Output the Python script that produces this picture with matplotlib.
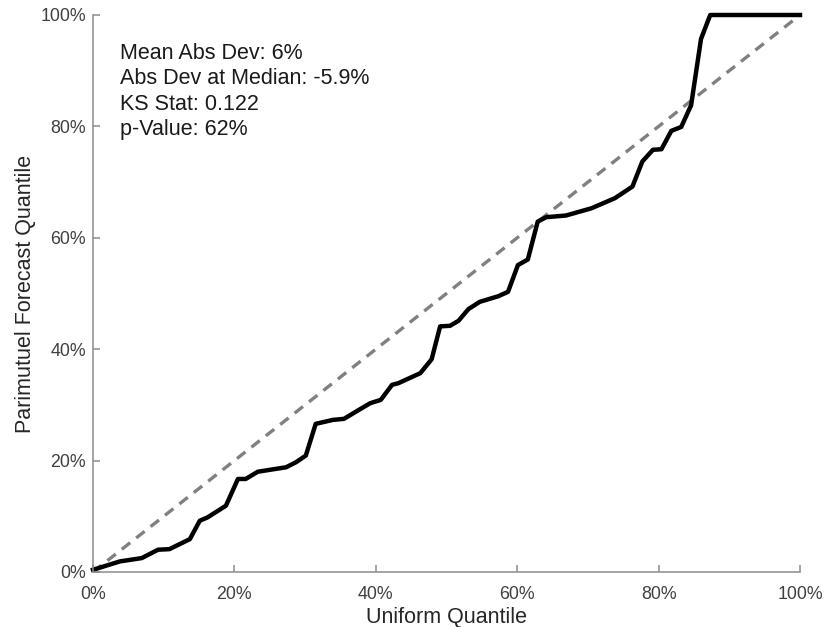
import matplotlib
matplotlib.use("Agg")
import matplotlib.pyplot as plt
from matplotlib.ticker import PercentFormatter

plt.rcParams['font.family'] = ['Liberation Sans', 'DejaVu Sans']

uniform_q = [0.000, 0.038, 0.069, 0.092, 0.108, 0.137, 0.151, 0.162, 0.188, 0.205,
             0.216, 0.233, 0.273, 0.287, 0.301, 0.315, 0.339, 0.355, 0.376, 0.392,
             0.407, 0.423, 0.432, 0.463, 0.479, 0.491, 0.505, 0.517, 0.531, 0.547,
             0.573, 0.587, 0.601, 0.615, 0.629, 0.641, 0.669, 0.705, 0.738, 0.763,
             0.777, 0.792, 0.804, 0.818, 0.832, 0.846, 0.860, 0.873, 1.000]
forecast_q = [0.004, 0.019, 0.025, 0.040, 0.041, 0.059, 0.092, 0.098, 0.119, 0.167,
              0.167, 0.180, 0.188, 0.197, 0.209, 0.266, 0.273, 0.275, 0.291, 0.303,
              0.309, 0.336, 0.339, 0.357, 0.382, 0.441, 0.442, 0.451, 0.472, 0.485,
              0.495, 0.503, 0.551, 0.561, 0.629, 0.637, 0.640, 0.653, 0.671, 0.692,
              0.737, 0.758, 0.759, 0.792, 0.799, 0.838, 0.957, 1.000, 1.000]
diag = [0.0, 1.0]
stats_lines = ["Mean Abs Dev: 6%", "Abs Dev at Median: -5.9%", "KS Stat: 0.122", "p-Value: 62%"]
ticks = [0, 0.2, 0.4, 0.6, 0.8, 1.0]

fig = plt.figure(figsize=(8.24, 6.27), dpi=100)
ax = fig.add_axes([93/824, 1 - 572/627, 707/824, (572-15)/627])

ax.plot(diag, diag, linestyle=(0, (3.2, 2.3)), color='#808080', lw=2.4)
ax.plot(uniform_q, forecast_q, color='black', lw=3.2, solid_joinstyle='round', clip_on=False)

ax.set_xlim(0, 1)
ax.set_ylim(0, 1)
ax.set_xticks(ticks)
ax.set_yticks(ticks)
ax.xaxis.set_major_formatter(PercentFormatter(1.0, decimals=0))
ax.yaxis.set_major_formatter(PercentFormatter(1.0, decimals=0))
for s in ['top', 'right']:
    ax.spines[s].set_visible(False)
for s in ['left', 'bottom']:
    ax.spines[s].set_color('#8c8c8c')
    ax.spines[s].set_linewidth(1.1)
ax.tick_params(direction='in', length=5, width=1.1, color='#8c8c8c',
               labelcolor='#404040', labelsize=12.8)
ax.tick_params(axis='x', pad=10)
ax.tick_params(axis='y', pad=5)

ax.set_xlabel("Uniform Quantile", fontsize=15.5, color='#262626', labelpad=3)
ax.set_ylabel("Parimutuel Forecast Quantile", fontsize=15.5, color='#262626', labelpad=3)

ax.text(0.038, 0.950, "\n".join(stats_lines), transform=ax.transAxes,
        fontsize=15.5, color='#1a1a1a', va='top', ha='left', linespacing=1.28)

fig.savefig("out.png", dpi=100)
